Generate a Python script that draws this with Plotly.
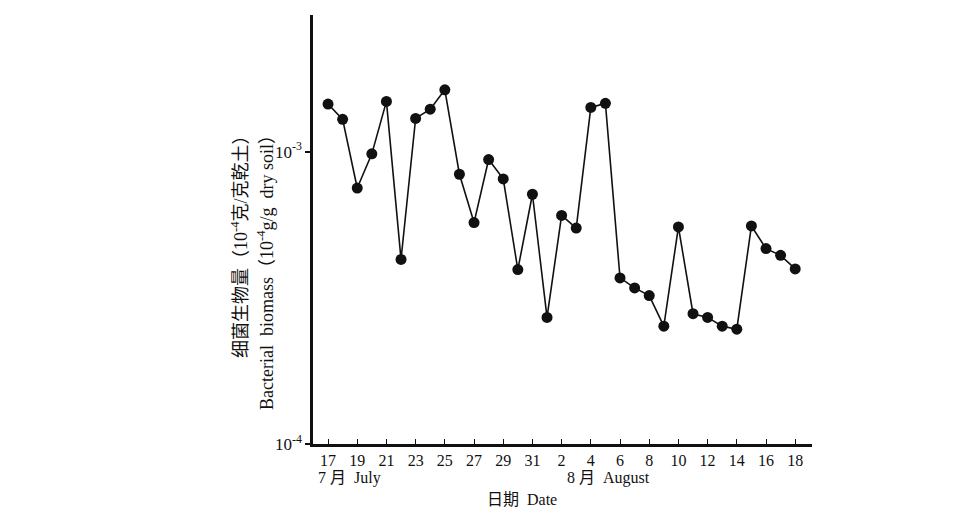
import plotly.graph_objects as go

# day index 0 = 17 July ... 32 = 18 August
days = list(range(33))
biomass = [1.455e-3, 1.29e-3, 0.751e-3, 0.983e-3, 1.486e-3, 0.428e-3, 1.299e-3, 1.398e-3,
           1.628e-3, 0.837e-3, 0.572e-3, 0.940e-3, 0.807e-3, 0.395e-3, 0.715e-3, 0.271e-3,
           0.605e-3, 0.548e-3, 1.417e-3, 1.463e-3, 0.370e-3, 0.342e-3, 0.322e-3, 0.253e-3,
           0.553e-3, 0.279e-3, 0.271e-3, 0.253e-3, 0.247e-3, 0.557e-3, 0.466e-3, 0.442e-3,
           0.397e-3]
tick_days = list(range(0, 33, 2))
tick_labels = ["17", "19", "21", "23", "25", "27", "29", "31",
               "2", "4", "6", "8", "10", "12", "14", "16", "18"]
y_tickvals = [1e-4, 1e-3]
y_ticktext = ["10<sup>-4</sup>", "10<sup>-3</sup>"]

FONT = "Liberation Serif, Noto Sans CJK SC, serif"
OFF = 8  # page body margin
L, R, T, B = 313, 812, 15, 444  # plot area in page pixels
W, H = 968 - OFF, 512 - OFF


def px(x):
    return (x - L) / (R - L)


def py(y):
    return 1 - (y - T) / (B - T)


fig = go.Figure()
fig.add_trace(go.Scatter(
    x=days, y=biomass, mode="lines+markers",
    line=dict(color="#111111", width=1.6),
    marker=dict(color="#111111", size=11),
    showlegend=False,
))

fig.update_layout(
    width=W, height=H,
    margin=dict(l=L - OFF, r=W - (R - OFF), t=T - OFF, b=H - (B - OFF)),
    paper_bgcolor="#ffffff", plot_bgcolor="#ffffff",
    font=dict(family=FONT, color="#111111", size=15),
)
fig.update_xaxes(
    range=[-1.03, 33.15], tickvals=tick_days, ticktext=tick_labels,
    showgrid=False, zeroline=False, showline=True, linecolor="#111111", linewidth=2.5,
    ticks="inside", ticklen=5, tickwidth=1.2, tickcolor="#111111",
    tickfont=dict(size=16, family=FONT),
)
fig.update_yaxes(
    type="log", range=[-4, -2.5325], tickvals=y_tickvals, ticktext=y_ticktext,
    showgrid=False, zeroline=False, showline=True, linecolor="#111111", linewidth=2.5,
    ticks="outside", ticklen=5, tickwidth=1.5, tickcolor="#111111",
    tickfont=dict(size=17, family=FONT),
)

ann = [
    dict(text="7 月  July", x=316, y=478),
    dict(text="8 月  August", x=565, y=478),
    dict(text="日期  Date", x=485, y=499),
]
for a in ann:
    fig.add_annotation(text=a["text"], xref="paper", yref="paper",
                       x=px(a["x"]), y=py(a["y"]),
                       xanchor="left", yanchor="middle", showarrow=False,
                       font=dict(size=16, family=FONT))

fig.add_annotation(text="细菌生物量（10<sup>-4</sup>克/克乾土）", xref="paper", yref="paper",
                   x=px(240), y=py(124),
                   xanchor="center", yanchor="top", textangle=-90, showarrow=False,
                   font=dict(size=18, family=FONT))
fig.add_annotation(text="Bacterial  biomass（10<sup>-4</sup>g/g  dry soil）", xref="paper", yref="paper",
                   x=px(265), y=py(124),
                   xanchor="center", yanchor="top", textangle=-90, showarrow=False,
                   font=dict(size=18, family=FONT))

fig.write_html("out.html")
